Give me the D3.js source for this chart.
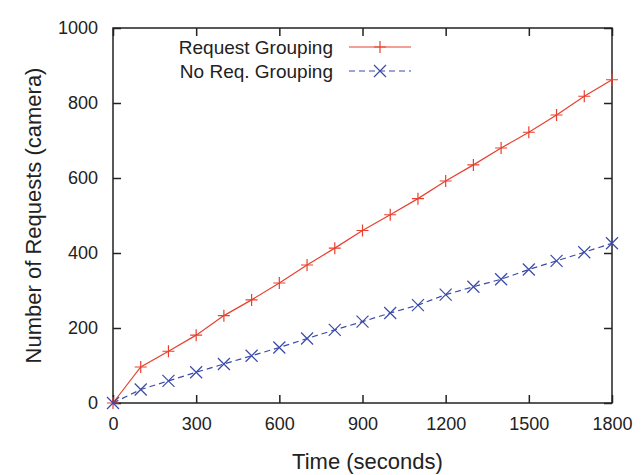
<!DOCTYPE html>
<html><head><meta charset="utf-8">
<script src="https://cdn.jsdelivr.net/npm/d3@7"></script>
<style>body{margin:0;background:#fff}svg{display:block}text{font-family:"Liberation Sans",Arial,sans-serif;fill:#222}</style>
</head><body>
<script>
const times = [0,100,200,300,400,500,600,700,800,900,1000,1100,1200,1300,1400,1500,1600,1700,1800];
const grouping = [0,96,138,181,233,275,320,368,413,460,502,545,592,635,680,722,768,818,862];
const noGrouping = [0,36,59,82,104,126,148,172,195,217,240,261,289,310,330,356,379,402,426];
const xTicks = [0,300,600,900,1200,1500,1800];
const yTicks = [0,200,400,600,800,1000];
const seriesNames = ["Request Grouping","No Req. Grouping"];

const W=642,H=475;
const m={l:113,r:30,t:28,b:72};
const svg=d3.select("body").append("svg").attr("width",W).attr("height",H);
const x=d3.scaleLinear().domain([0,1800]).range([m.l,W-m.r]);
const y=d3.scaleLinear().domain([0,1000]).range([H-m.b,m.t]);
const red="#e8402f", blue="#3a4aa8";

svg.append("rect").attr("x",x(0)).attr("y",y(1000)).attr("width",x(1800)-x(0)).attr("height",y(0)-y(1000))
  .attr("fill","none").attr("stroke","#222").attr("stroke-width",1.5);
const tl=8, fmt=d3.format("d");
const gx=svg.append("g").attr("transform",`translate(0,${y(0)})`)
  .call(d3.axisBottom(x).tickValues(xTicks).tickFormat(fmt).tickSize(-tl).tickPadding(tl+6));
const gxt=svg.append("g").attr("transform",`translate(0,${y(1000)})`)
  .call(d3.axisTop(x).tickValues(xTicks).tickSize(-tl).tickFormat(""));
const gy=svg.append("g").attr("transform",`translate(${x(0)},0)`)
  .call(d3.axisLeft(y).tickValues(yTicks).tickFormat(fmt).tickSize(-tl).tickPadding(tl+7));
const gyr=svg.append("g").attr("transform",`translate(${x(1800)},0)`)
  .call(d3.axisRight(y).tickValues(yTicks).tickSize(-tl).tickFormat(""));
[gx,gxt,gy,gyr].forEach(g=>{g.select(".domain").remove();g.selectAll("line").attr("stroke","#222").attr("stroke-width",1.5);
  g.selectAll("text").style("font-size","18px").style("font-family","'Liberation Sans',Arial,sans-serif").attr("fill","#222");});

svg.append("text").attr("x",(x(0)+x(1800))/2+5).attr("y",469).attr("text-anchor","middle").style("font-size","22px").text("Time (seconds)");
svg.append("text").attr("transform",`translate(41,${(y(0)+y(1000))/2}) rotate(-90)`).attr("text-anchor","middle").style("font-size","22px").text("Number of Requests (camera)");

const line=d3.line().x((d,i)=>x(times[i])).y(d=>y(d));
function plus(g,cx,cy,c){const s=6;g.append("path").attr("d",`M${cx-s},${cy}H${cx+s}M${cx},${cy-s}V${cy+s}`).attr("stroke",c).attr("stroke-width",1.2).attr("fill","none");}
function cross(g,cx,cy,c){const s=6;g.append("path").attr("d",`M${cx-s},${cy-s}L${cx+s},${cy+s}M${cx-s},${cy+s}L${cx+s},${cy-s}`).attr("stroke",c).attr("stroke-width",1.2).attr("fill","none");}

svg.append("path").datum(grouping).attr("d",line).attr("fill","none").attr("stroke",red).attr("stroke-width",1.2);
svg.append("path").datum(noGrouping).attr("d",line).attr("fill","none").attr("stroke",blue).attr("stroke-width",1.2).attr("stroke-dasharray","6,4");
const mk=svg.append("g");
grouping.forEach((v,i)=>plus(mk,x(times[i]),y(v),red));
noGrouping.forEach((v,i)=>cross(mk,x(times[i]),y(v),blue));

const lg=svg.append("g");
const ly=[47,71];
lg.append("text").attr("x",333).attr("y",ly[0]+7).attr("text-anchor","end").style("font-size","19px").text(seriesNames[0]);
lg.append("text").attr("x",333).attr("y",ly[1]+7).attr("text-anchor","end").style("font-size","19px").text(seriesNames[1]);
lg.append("line").attr("x1",349).attr("x2",411).attr("y1",ly[0]).attr("y2",ly[0]).attr("stroke",red).attr("stroke-width",1.2);
plus(lg,380,ly[0],red);
lg.append("line").attr("x1",349).attr("x2",411).attr("y1",ly[1]).attr("y2",ly[1]).attr("stroke",blue).attr("stroke-width",1.2).attr("stroke-dasharray","6,4");
cross(lg,380,ly[1],blue);
</script>
</body></html>
